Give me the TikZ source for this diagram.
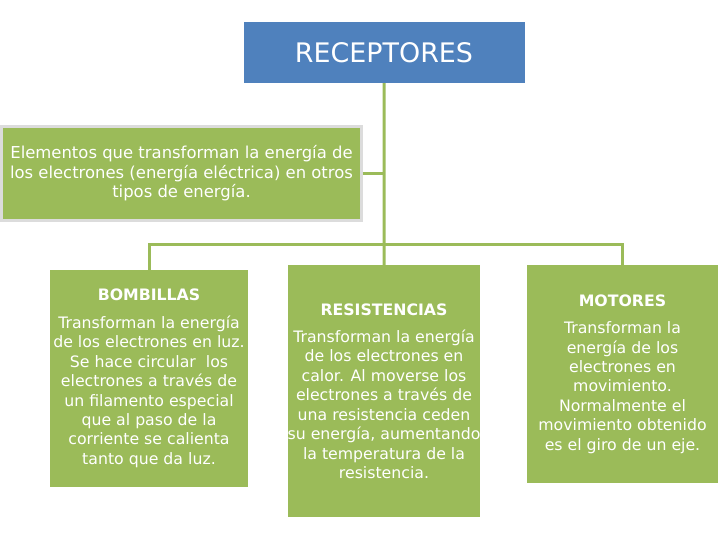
\documentclass[tikz,border=0pt]{standalone}
\usepackage{fontspec}
\setmainfont{DejaVu Sans}
\usepackage{xcolor}
\usetikzlibrary{positioning}
\definecolor{recblue}{HTML}{4F81BD}
\definecolor{recgreen}{HTML}{9BBB59}
\definecolor{recgray}{HTML}{DCDCDC}

\begin{document}
\begin{tikzpicture}[x=1bp, y=1bp, node distance=235bp, auto,
    box/.style={rectangle, fill=recgreen, text=white, align=center, inner sep=0pt,
        font=\fontsize{15.8}{19.5}\selectfont},
    head/.style={rectangle, fill=recblue, text=white, minimum width=281bp, minimum height=61bp,
        font=\fontsize{27}{30}\selectfont},
    link/.style={draw=recgreen, line width=3bp}]

    \useasboundingbox (0,0) rectangle (720,-540);

    \node[head] (rec) at (384,-52.5) {RECEPTORES};
    \node[box, draw=recgray, line width=3bp, minimum width=359bp, minimum height=94bp,
        font=\fontsize{16.5}{19.5}\selectfont] (elem) at (181.5,-173.5)
        {Elementos que transforman la energía de\\los electrones (energía eléctrica) en otros\\tipos de energía.};

    \node[box, minimum width=198bp, minimum height=217bp] (bomb) at (149,-378.5)
        {\textbf{BOMBILLAS}\\[8bp]Transforman la energía\\de los electrones en luz.\\Se hace circular \ los\\electrones a través de\\un filamento especial\\que al paso de la\\corriente se calienta\\tanto que da luz.};
    \node[box, minimum width=192bp, minimum height=252bp, right of=bomb, yshift=-12.5bp] (res)
        {\textbf{RESISTENCIAS}\\[8bp]Transforman la energía\\de los electrones en\\calor. Al moverse los\\electrones a través de\\una resistencia ceden\\su energía, aumentando\\la temperatura de la\\resistencia.};
    \node[box, minimum width=191bp, minimum height=218bp, right of=res, node distance=238.5bp, yshift=17bp] (mot)
        {\textbf{MOTORES}\\[8bp]Transforman la\\energía de los\\electrones en\\movimiento.\\Normalmente el\\movimiento obtenido\\es el giro de un eje.};

    \coordinate (bus) at (384,-245);

    \draw[link] (rec.south) -- (res.north);
    \draw[link] (elem.east) -- (elem.east -| rec.south);
    \draw[link] (bomb.north) |- (bus) -| (mot.north);
\end{tikzpicture}
\end{document}
